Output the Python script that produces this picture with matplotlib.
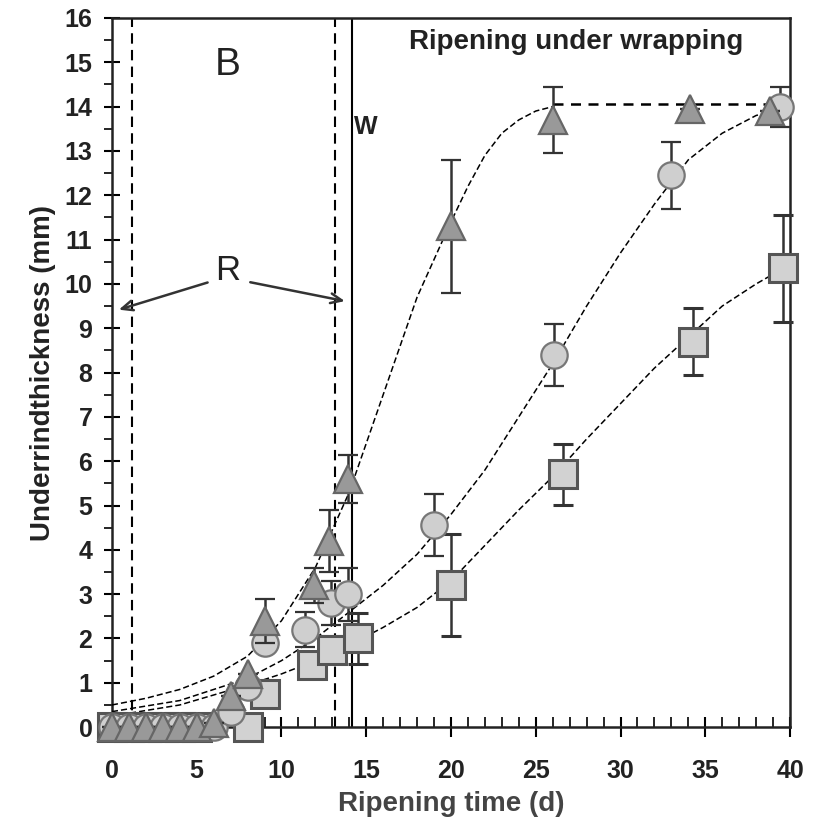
import matplotlib
matplotlib.use("Agg")
import matplotlib.pyplot as plt
from matplotlib.ticker import MultipleLocator

plt.rcParams['font.family'] = ['Liberation Sans', 'DejaVu Sans']

# ---- data ----
tri_x = [0, 1, 2, 3, 4, 5, 6, 7, 8, 9, 11.9, 12.8, 13.9, 20.0, 26.0, 34.1, 38.8]
tri_y = [0, 0, 0, 0, 0, 0, 0.1, 0.7, 1.2, 2.4, 3.2, 4.2, 5.6, 11.3, 13.7, 13.95, 13.9]
tri_e = [0, 0, 0, 0, 0, 0, 0, 0, 0, 0.5, 0.4, 0.7, 0.55, 1.5, 0.75, 0, 0]

cir_x = [0, 1, 2, 3, 4, 5, 6, 7, 8, 9, 11.4, 12.9, 13.9, 19.0, 26.1, 33.0, 39.4]
cir_y = [0, 0, 0, 0, 0, 0, 0, 0.35, 0.9, 1.9, 2.2, 2.8, 3.0, 4.55, 8.4, 12.45, 14.0]
cir_e = [0, 0, 0, 0, 0, 0, 0, 0, 0, 0, 0.4, 0.5, 0.6, 0.7, 0.7, 0.75, 0.45]

sq_x = [0, 1, 2, 3, 4, 5, 8, 9, 11.8, 13.0, 14.5, 20.0, 26.6, 34.3, 39.6]
sq_y = [0, 0, 0, 0, 0, 0, 0, 0.75, 1.4, 1.75, 2.0, 3.2, 5.7, 8.7, 10.35]
sq_e = [0, 0, 0, 0, 0, 0, 0, 0, 0, 0.3, 0.58, 1.15, 0.68, 0.75, 1.2]

# fitted curves
tri_fit_x = [0, 2, 4, 6, 8, 10, 12, 14, 16, 18, 20, 21, 22, 23, 24, 25, 26]
tri_fit_y = [0.5, 0.65, 0.85, 1.15, 1.6, 2.4, 3.6, 5.3, 7.5, 9.7, 11.4, 12.2, 12.9, 13.4, 13.7, 13.9, 14.0]
plateau_x = [26, 40]
plateau_y = [14.05, 14.05]

cir_fit_x = [0, 4, 8, 10, 12, 14, 16, 18, 20, 22, 24, 26, 28, 30, 32, 34, 36, 38, 39.5]
cir_fit_y = [0.35, 0.6, 1.1, 1.5, 2.0, 2.6, 3.2, 3.9, 4.8, 5.8, 7.0, 8.2, 9.5, 10.7, 11.8, 12.8, 13.4, 13.8, 13.95]

sq_fit_x = [0, 4, 8, 10, 12, 14, 16, 18, 20, 22, 24, 26, 28, 30, 32, 34, 36, 38, 39.6]
sq_fit_y = [0.25, 0.5, 0.95, 1.2, 1.5, 1.85, 2.25, 2.7, 3.3, 4.1, 4.9, 5.65, 6.5, 7.3, 8.1, 8.8, 9.5, 10.0, 10.35]

vlines_dashed = [1.2, 13.15]
vline_solid = 14.15

fig = plt.figure(figsize=(8.17, 8.17), dpi=100)
ax = fig.add_axes([0.137, 0.110, 0.830, 0.868])

dash = (0, (4, 2))
ax.plot(tri_fit_x, tri_fit_y, color='black', lw=1.1, ls=dash, zorder=3)
ax.plot(plateau_x, plateau_y, color='black', lw=1.8, ls=(0, (4, 3)), zorder=3)
ax.plot(cir_fit_x, cir_fit_y, color='black', lw=1.1, ls=dash, zorder=3)
ax.plot(sq_fit_x, sq_fit_y, color='black', lw=1.1, ls=dash, zorder=3)

for xv in vlines_dashed:
    ax.axvline(xv, color='black', lw=1.5, ls=(0, (5, 3)), zorder=2)
ax.axvline(vline_solid, color='black', lw=1.5, zorder=2)

ek = dict(ecolor='#333333', elinewidth=1.8, capsize=7, capthick=1.8, ls='none')
series = [
    (sq_x, sq_y, sq_e, dict(marker='s', ms=20, mfc='#d2d2d2', mec='#555555', mew=2.2, zorder=4)),
    (cir_x, cir_y, cir_e, dict(marker='o', ms=19, mfc='#cfcfcf', mec='#777777', mew=1.6, zorder=5)),
    (tri_x, tri_y, tri_e, dict(marker='^', ms=20, mfc='#999999', mec='#666666', mew=1.6, zorder=6)),
]
for xs, ys, es, st in series:
    cont = ax.errorbar(xs, ys, yerr=es, **st, **ek)
    for art in cont.get_children():
        art.set_clip_on(False)

ax.set_xlim(0, 40)
ax.set_ylim(0, 16)
ax.xaxis.set_major_locator(MultipleLocator(5))
ax.xaxis.set_minor_locator(MultipleLocator(1))
ax.yaxis.set_major_locator(MultipleLocator(1))
ax.yaxis.set_minor_locator(MultipleLocator(0.5))
ax.tick_params(axis='x', which='major', direction='inout', length=14, width=1.5, labelsize=18, pad=16)
ax.tick_params(axis='x', which='minor', direction='in', length=7, width=1.2)
ax.tick_params(axis='y', which='major', direction='inout', length=12, width=1.5, labelsize=18, pad=8)
ax.tick_params(axis='y', which='minor', direction='out', length=6, width=1.2)
for lab in ax.get_yticklabels():
    lab.set_fontweight('bold')
    lab.set_color('#222222')
for lab in ax.get_xticklabels():
    lab.set_fontweight('bold')
    lab.set_color('#222222')
for s in ax.spines.values():
    s.set_linewidth(1.8)
    s.set_color('#222222')

ax.set_xlabel('Ripening time (d)', fontsize=20, fontweight='bold', color='#444444', labelpad=6)
ax.set_ylabel('Underrindthickness (mm)', fontsize=20, fontweight='bold', color='#222222', labelpad=6)

ax.text(6.8, 14.95, 'B', fontsize=28, ha='center', va='center', color='#222222')
ax.text(15.0, 13.55, 'W', fontsize=18, fontweight='bold', ha='center', va='center', color='#222222')
ax.text(27.4, 15.45, 'Ripening under wrapping', fontsize=20, fontweight='bold', ha='center', va='center', color='#222222')
ax.text(6.85, 10.3, 'R', fontsize=25, ha='center', va='center', color='#222222')
ax.annotate('', xy=(0.25, 9.4), xytext=(5.8, 10.05),
            arrowprops=dict(arrowstyle='->,head_length=0.8,head_width=0.35', lw=1.8, color='#333333'))
ax.annotate('', xy=(13.9, 9.6), xytext=(8.0, 10.05),
            arrowprops=dict(arrowstyle='->,head_length=0.8,head_width=0.35', lw=1.8, color='#333333'))

fig.savefig('out.png', dpi=100)
